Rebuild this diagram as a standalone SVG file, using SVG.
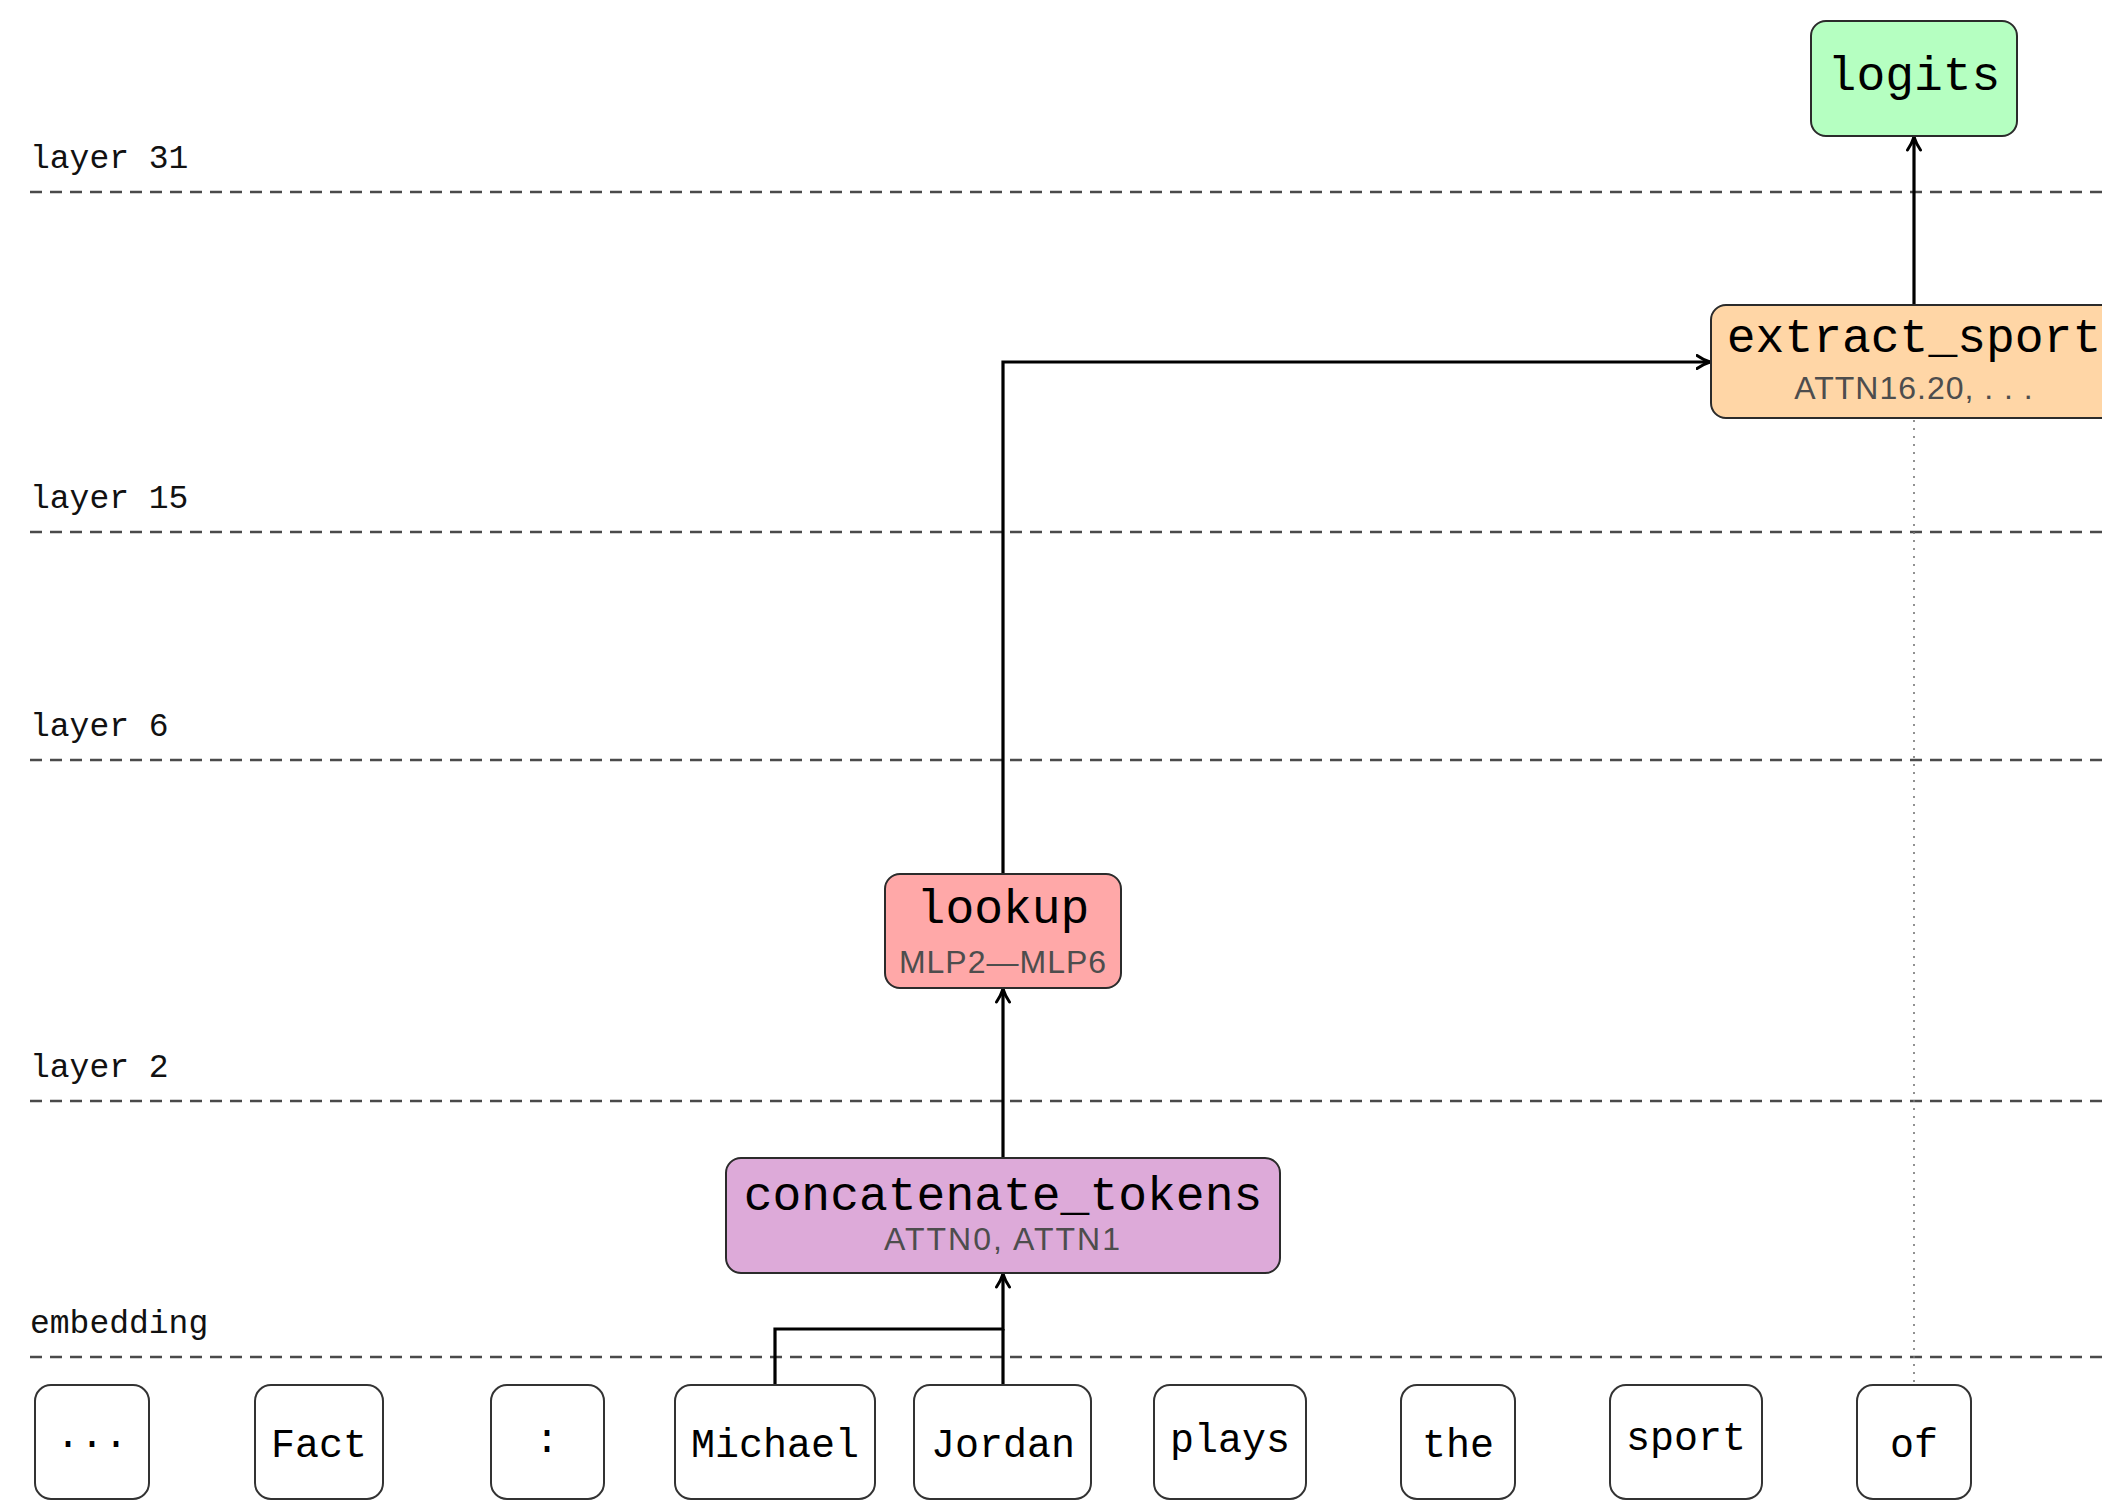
<svg xmlns="http://www.w3.org/2000/svg" width="2102" height="1500" viewBox="0 0 2102 1500">
  <style>
    .layer-line { stroke: #4a4a4a; stroke-width: 2.4; stroke-dasharray: 12 8; fill: none; }
    .layer-label { font-family: "Liberation Mono", "DejaVu Sans Mono", monospace; font-size: 33px; fill: #111; }
    .node-box { stroke: #2b2b2b; stroke-width: 2; }
    .node-title { font-family: "Liberation Mono", "DejaVu Sans Mono", monospace; font-size: 48px; fill: #000; text-anchor: middle; }
    .node-sub { font-family: "Liberation Sans", Arial, sans-serif; font-size: 32px; letter-spacing: 1px; fill: #4d4d4d; text-anchor: middle; }
    .token-box { fill: #fff; stroke: #333; stroke-width: 2; }
    .token-text { font-family: "Liberation Mono", "DejaVu Sans Mono", monospace; font-size: 40px; fill: #000; text-anchor: middle; }
    .edge { stroke: #000; stroke-width: 3.2; fill: none; }
    .guide { stroke: #777; stroke-width: 1.6; stroke-dasharray: 2 6; fill: none; }
  </style>
  <defs>
    <marker id="arrow" viewBox="0 0 16 16" refX="14.5" refY="8" markerWidth="16" markerHeight="16" markerUnits="userSpaceOnUse" orient="auto">
      <path d="M1.5,1.5 Q8,6 14.5,8 Q8,10 1.5,14.5" fill="none" stroke="#000" stroke-width="3" stroke-linecap="round" stroke-linejoin="round"/>
    </marker>
  </defs>
  <rect width="2102" height="1500" fill="#fff"/>

  <!-- layer separators -->
  <g id="layers">
    <line class="layer-line" x1="30" y1="192" x2="2102" y2="192"/>
    <text class="layer-label" x="30" y="168">layer 31</text>
    <line class="layer-line" x1="30" y1="532" x2="2102" y2="532"/>
    <text class="layer-label" x="30" y="508">layer 15</text>
    <line class="layer-line" x1="30" y1="760" x2="2102" y2="760"/>
    <text class="layer-label" x="30" y="736">layer 6</text>
    <line class="layer-line" x1="30" y1="1101" x2="2102" y2="1101"/>
    <text class="layer-label" x="30" y="1077">layer 2</text>
    <line class="layer-line" x1="30" y1="1357" x2="2102" y2="1357"/>
    <text class="layer-label" x="30" y="1333">embedding</text>
  </g>

  <!-- connectors -->
  <g id="connectors">
    <line class="guide" x1="1914" y1="420" x2="1914" y2="1385"/>
    <polyline class="edge" points="775,1385 775,1329 1003,1329 1003,1274" marker-end="url(#arrow)"/>
    <line class="edge" x1="1003" y1="1385" x2="1003" y2="1329"/>
    <line class="edge" x1="1003" y1="1158" x2="1003" y2="989" marker-end="url(#arrow)"/>
    <polyline class="edge" points="1003,874 1003,362 1710,362" marker-end="url(#arrow)"/>
    <line class="edge" x1="1914" y1="305" x2="1914" y2="137" marker-end="url(#arrow)"/>
  </g>

  <!-- circuit nodes -->
  <g id="logits">
    <rect class="node-box" x="1811" y="21" width="206" height="115" rx="15" fill="#b5ffc1"/>
    <text class="node-title" x="1914" y="90">logits</text>
  </g>
  <g id="extract_sport">
    <rect class="node-box" x="1711" y="305" width="420" height="113" rx="15" fill="#ffd6a6"/>
    <text class="node-title" x="1914" y="352">extract_sport</text>
    <text class="node-sub" x="1914" y="399">ATTN16.20, . . .</text>
  </g>
  <g id="lookup">
    <rect class="node-box" x="885" y="874" width="236" height="114" rx="15" fill="#ffa8a8"/>
    <text class="node-title" x="1003" y="923">lookup</text>
    <text class="node-sub" x="1003" y="973">MLP2—MLP6</text>
  </g>
  <g id="concatenate_tokens">
    <rect class="node-box" x="726" y="1158" width="554" height="115" rx="15" fill="#ddaad9"/>
    <text class="node-title" x="1003" y="1210">concatenate_tokens</text>
    <text class="node-sub" x="1003" y="1250" style="letter-spacing:2px">ATTN0, ATTN1</text>
  </g>

  <!-- prompt tokens -->
  <g id="tok-ellipsis">
    <rect class="token-box" x="35" y="1385" width="114" height="114" rx="16"/>
    <text class="token-text" x="92" y="1447">...</text>
  </g>
  <g id="tok-fact">
    <rect class="token-box" x="255" y="1385" width="128" height="114" rx="16"/>
    <text class="token-text" x="319" y="1457">Fact</text>
  </g>
  <g id="tok-colon">
    <rect class="token-box" x="491" y="1385" width="113" height="114" rx="16"/>
    <text class="token-text" x="547" y="1452">:</text>
  </g>
  <g id="tok-michael">
    <rect class="token-box" x="675" y="1385" width="200" height="114" rx="16"/>
    <text class="token-text" x="775" y="1457">Michael</text>
  </g>
  <g id="tok-jordan">
    <rect class="token-box" x="914" y="1385" width="177" height="114" rx="16"/>
    <text class="token-text" x="1003" y="1457">Jordan</text>
  </g>
  <g id="tok-plays">
    <rect class="token-box" x="1154" y="1385" width="152" height="114" rx="16"/>
    <text class="token-text" x="1230" y="1452">plays</text>
  </g>
  <g id="tok-the">
    <rect class="token-box" x="1401" y="1385" width="114" height="114" rx="16"/>
    <text class="token-text" x="1458" y="1457">the</text>
  </g>
  <g id="tok-sport">
    <rect class="token-box" x="1610" y="1385" width="152" height="114" rx="16"/>
    <text class="token-text" x="1686" y="1450">sport</text>
  </g>
  <g id="tok-of">
    <rect class="token-box" x="1857" y="1385" width="114" height="114" rx="16"/>
    <text class="token-text" x="1914" y="1457">of</text>
  </g>
</svg>
